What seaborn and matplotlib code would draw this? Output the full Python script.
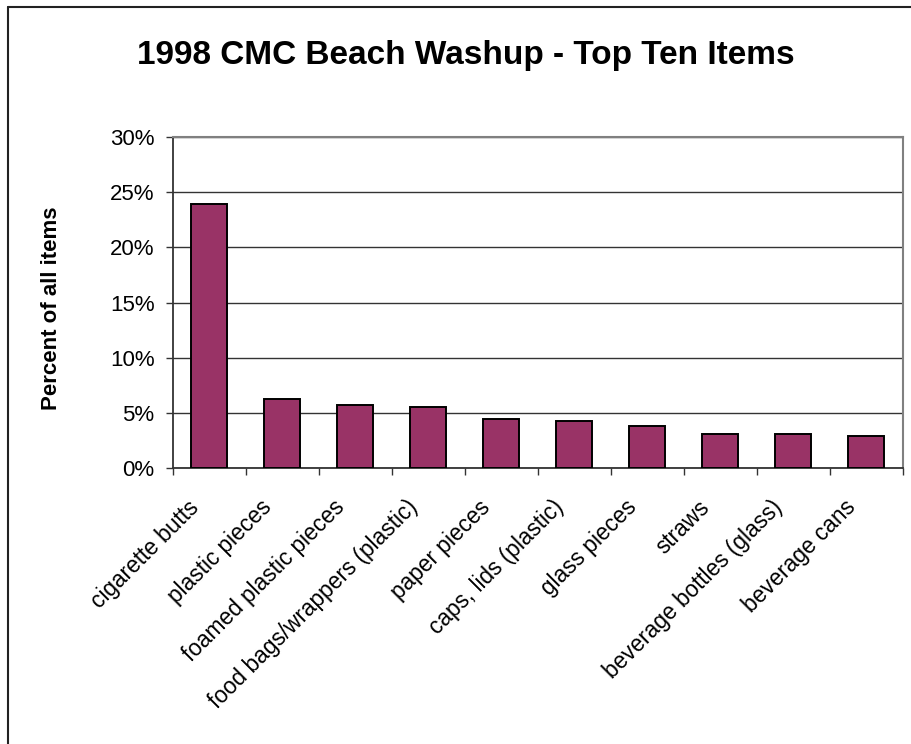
import matplotlib
matplotlib.use("Agg")
import matplotlib.pyplot as plt
import seaborn as sns
import pandas as pd
from matplotlib.ticker import FuncFormatter, FixedLocator
from matplotlib.lines import Line2D
from matplotlib.transforms import ScaledTranslation

categories = ["cigarette butts", "plastic pieces", "foamed plastic pieces",
              "food bags/wrappers (plastic)", "paper pieces", "caps, lids (plastic)",
              "glass pieces", "straws", "beverage bottles (glass)", "beverage cans"]
percent = [23.9, 6.2, 5.7, 5.5, 4.4, 4.2, 3.8, 3.1, 3.1, 2.85]
y_ticks = [0, 5, 10, 15, 20, 25, 30]

df = pd.DataFrame({"item": categories, "pct": percent})

sns.set_style("white")
plt.rcParams["font.family"] = ["Liberation Sans", "DejaVu Sans"]
plt.rcParams["text.color"] = "black"
plt.rcParams["xtick.color"] = "black"
plt.rcParams["ytick.color"] = "black"

fig = plt.figure(figsize=(9.12, 7.44), dpi=100)
ax = fig.add_axes([172.7/912, 1-467.7/744, (902.7-172.7)/912, (467.7-137.3)/744])

sns.barplot(data=df, x="item", y="pct", ax=ax, color="#993366", width=0.5,
            edgecolor="black", linewidth=1.4, saturation=1, zorder=3)

ax.set_xlim(-0.5, len(categories) - 0.5)
ax.set_ylim(0, 30)
ax.set_yticks(y_ticks)
ax.yaxis.set_major_formatter(FuncFormatter(lambda v, p: f"{v:.0f}%"))
ax.grid(axis="y", color="#333333", linewidth=1.0, zorder=0)
ax.set_axisbelow(True)

ax.set_xlabel("")
ax.set_ylabel("")

ax.set_xticks(range(len(categories)))
ax.set_xticklabels(categories, rotation=45, ha="right", rotation_mode="anchor",
                   va="center", fontsize=16.3)
ax.xaxis.set_minor_locator(FixedLocator([i - 0.5 for i in range(len(categories) + 1)]))
ax.tick_params(axis="x", which="major", length=0, pad=26)
ax.tick_params(axis="x", which="minor", length=5, width=1.0, color="#333333", bottom=True)
ax.tick_params(axis="y", which="major", length=5, width=1.0, color="#333333",
               labelsize=16, pad=8, left=True)

shift = ScaledTranslation(-14/100, 0, fig.dpi_scale_trans)
for lbl in ax.get_xticklabels():
    lbl.set_transform(lbl.get_transform() + shift)

for s in ["left", "bottom"]:
    ax.spines[s].set_color("#333333")
    ax.spines[s].set_linewidth(1.3)
for s in ["top", "right"]:
    ax.spines[s].set_visible(True)
    ax.spines[s].set_color("#808080")
    ax.spines[s].set_linewidth(1.5)

fig.text(466/912, 1-64/744, "1998 CMC Beach Washup - Top Ten Items",
         ha="center", va="baseline", fontsize=24, fontweight="bold")
fig.text(51.5/912, 1-308.5/744, "Percent of all items", rotation=90,
         ha="center", va="center", fontsize=16, fontweight="bold")

# chart-area frame (left and top edges visible)
fig.add_artist(Line2D([8/912, 8/912], [0, 1-7/744], transform=fig.transFigure,
                      color="#222222", linewidth=1.5))
fig.add_artist(Line2D([8/912, 1], [1-7/744, 1-7/744], transform=fig.transFigure,
                      color="#222222", linewidth=1.5))

fig.savefig("out.png", dpi=100)
